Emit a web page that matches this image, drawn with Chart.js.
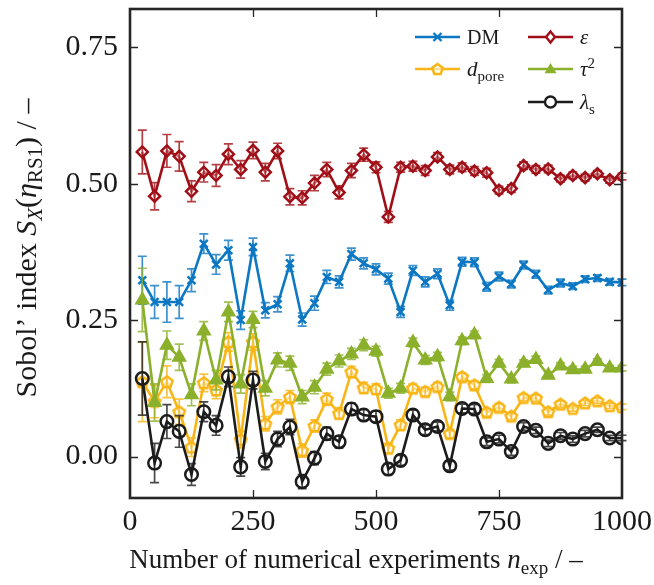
<!DOCTYPE html>
<html>
<head>
<meta charset="utf-8">
<script src="https://cdn.jsdelivr.net/npm/chart.js@4.4.1/dist/chart.umd.min.js"></script>
<style>
  html, body { margin: 0; padding: 0; background: #fff; }
  #wrap { width: 654px; height: 585px; }
</style>
</head>
<body>
<div id="wrap"><canvas id="sobol" width="654" height="585"></canvas></div>
<script>
// number of numerical experiments (x positions)
const nExp = [25, 50, 75, 100, 125, 150, 175, 200, 225, 250,
              275, 300, 325, 350, 375, 400, 425, 450, 475, 500,
              525, 550, 575, 600, 625, 650, 675, 700, 725, 750,
              775, 800, 825, 850, 875, 900, 925, 950, 975, 1000];

// Sobol' indices
const dm = [0.323, 0.283, 0.283, 0.283, 0.323, 0.390, 0.352, 0.378, 0.250, 0.384,
            0.268, 0.279, 0.354, 0.251, 0.281, 0.329, 0.320, 0.371, 0.354, 0.343,
            0.326, 0.265, 0.341, 0.320, 0.335, 0.277, 0.357, 0.356, 0.311, 0.330,
            0.316, 0.351, 0.334, 0.305, 0.318, 0.312, 0.325, 0.327, 0.320, 0.319];
const eps = [0.558, 0.477, 0.560, 0.550, 0.486, 0.521, 0.515, 0.554, 0.526, 0.561,
             0.521, 0.560, 0.476, 0.474, 0.501, 0.526, 0.484, 0.524, 0.553, 0.530,
             0.439, 0.530, 0.532, 0.524, 0.549, 0.526, 0.530, 0.523, 0.520, 0.488,
             0.491, 0.533, 0.526, 0.527, 0.509, 0.515, 0.511, 0.518, 0.507, 0.513];
const dpore = [0.137, 0.101, 0.137, 0.082, 0.017, 0.135, 0.122, 0.210, 0.031, 0.210,
               0.060, 0.091, 0.109, 0.011, 0.056, 0.105, 0.079, 0.155, 0.126, 0.124,
               0.015, 0.058, 0.125, 0.119, 0.128, 0.042, 0.146, 0.131, 0.081, 0.090,
               0.074, 0.108, 0.107, 0.082, 0.096, 0.088, 0.098, 0.102, 0.093, 0.091];
const tau2 = [0.287, 0.099, 0.204, 0.182, 0.113, 0.230, 0.140, 0.265, 0.133, 0.251,
              0.125, 0.177, 0.171, 0.109, 0.127, 0.160, 0.175, 0.188, 0.204, 0.193,
              0.116, 0.125, 0.209, 0.177, 0.183, 0.110, 0.212, 0.223, 0.143, 0.171,
              0.142, 0.171, 0.178, 0.149, 0.166, 0.159, 0.160, 0.174, 0.162, 0.162];
const lambdaS = [0.143, -0.012, 0.064, 0.046, -0.033, 0.082, 0.057, 0.146, -0.019, 0.140,
                 -0.009, 0.032, 0.054, -0.046, -0.003, 0.042, 0.027, 0.087, 0.076, 0.073,
                 -0.023, -0.007, 0.076, 0.049, 0.055, -0.017, 0.088, 0.087, 0.027, 0.032,
                 0.009, 0.055, 0.048, 0.024, 0.038, 0.032, 0.042, 0.049, 0.034, 0.034];

// half widths of the error bars
const dmErr = [0.044, 0.030, 0.037, 0.030, 0.021, 0.018, 0.018, 0.018, 0.017, 0.016,
               0.014, 0.014, 0.015, 0.012, 0.013, 0.012, 0.011, 0.011, 0.010, 0.010,
               0.010, 0.010, 0.009, 0.009, 0.009, 0.009, 0.008, 0.008, 0.008, 0.008,
               0.007, 0.007, 0.007, 0.007, 0.007, 0.006, 0.006, 0.006, 0.006, 0.006];
const epsErr = [0.040, 0.025, 0.030, 0.027, 0.019, 0.018, 0.020, 0.019, 0.016, 0.015,
                0.016, 0.014, 0.015, 0.013, 0.014, 0.013, 0.012, 0.013, 0.012, 0.010,
                0.010, 0.009, 0.009, 0.009, 0.008, 0.008, 0.008, 0.008, 0.008, 0.007,
                0.007, 0.007, 0.007, 0.007, 0.006, 0.006, 0.006, 0.006, 0.006, 0.006];
const dporeErr = [0.073, 0.030, 0.029, 0.023, 0.017, 0.016, 0.016, 0.017, 0.015, 0.015,
                  0.013, 0.013, 0.012, 0.012, 0.011, 0.011, 0.010, 0.010, 0.010, 0.009,
                  0.009, 0.009, 0.008, 0.008, 0.008, 0.008, 0.007, 0.007, 0.007, 0.007,
                  0.006, 0.006, 0.006, 0.006, 0.006, 0.005, 0.005, 0.005, 0.005, 0.005];
const tau2Err = [0.058, 0.034, 0.026, 0.024, 0.020, 0.017, 0.018, 0.018, 0.017, 0.015,
                 0.014, 0.013, 0.013, 0.012, 0.012, 0.011, 0.011, 0.010, 0.010, 0.009,
                 0.009, 0.009, 0.008, 0.008, 0.008, 0.008, 0.007, 0.007, 0.007, 0.007,
                 0.007, 0.006, 0.006, 0.006, 0.006, 0.006, 0.005, 0.005, 0.005, 0.005];
const lambdaSErr = [0.067, 0.036, 0.031, 0.029, 0.020, 0.018, 0.018, 0.018, 0.017, 0.016,
                    0.015, 0.014, 0.014, 0.013, 0.012, 0.012, 0.011, 0.011, 0.010, 0.010,
                    0.010, 0.009, 0.009, 0.009, 0.008, 0.008, 0.008, 0.008, 0.007, 0.007,
                    0.007, 0.007, 0.006, 0.006, 0.006, 0.006, 0.006, 0.005, 0.005, 0.005];

const xTicks = [0, 250, 500, 750, 1000];
const yTicks = [0, 0.25, 0.5, 0.75];

const SERIF = '"Liberation Serif", "DejaVu Serif", serif';
const C = {
    dm: '#0c77c2',
    eps: '#a00f17',
    dpore: '#f8b515',
    tau2: '#8bb02c',
    lambda: '#1c1c1c'
};

// pentagon marker sprite (no built-in pentagon in Chart.js)
function pentagonSprite(color, r) {
    const s = Math.ceil(2 * r + 6);
    const c = document.createElement('canvas');
    c.width = s; c.height = s;
    const g = c.getContext('2d');
    drawPentagon(g, s / 2, s / 2 + 0.5, r, color);
    return c;
}
function drawPentagon(g, x, y, r, color) {
    g.beginPath();
    for (let i = 0; i < 5; i++) {
        const a = -Math.PI / 2 + i * 2 * Math.PI / 5;
        g.lineTo(x + r * Math.cos(a), y + r * Math.sin(a));
    }
    g.closePath();
    g.fillStyle = 'rgba(255,255,255,0.55)';
    g.fill();
    g.lineWidth = 2.5;
    g.strokeStyle = color;
    g.stroke();
}

const toXY = arr => arr.map((v, i) => ({ x: nExp[i], y: v }));

function series(label, values, err, color, extra, order) {
    return Object.assign({
        label: label,
        data: toXY(values),
        err: err,
        errColor: color,
        borderColor: color,
        backgroundColor: color,
        pointBorderColor: color,
        borderWidth: 2.6,
        pointBorderWidth: 2.5,
        tension: 0,
        fill: false,
        order: order
    }, extra);
}

// error bars drawn through the y scale
const errorBars = {
    id: 'errorBars',
    afterDatasetDraw(chart, args) {
        const ds = chart.data.datasets[args.index];
        if (!ds.err) return;
        const ys = chart.scales.y;
        const ctx = chart.ctx;
        ctx.save();
        ctx.globalAlpha = 0.8;
        ctx.strokeStyle = ds.errColor;
        ctx.lineWidth = 1.7;
        args.meta.data.forEach((pt, i) => {
            const v = ds.data[i].y, e = ds.err[i];
            const top = ys.getPixelForValue(v + e);
            const bot = ys.getPixelForValue(v - e);
            ctx.beginPath();
            ctx.moveTo(pt.x, top); ctx.lineTo(pt.x, bot);
            ctx.moveTo(pt.x - 4.5, top); ctx.lineTo(pt.x + 4.5, top);
            ctx.moveTo(pt.x - 4.5, bot); ctx.lineTo(pt.x + 4.5, bot);
            ctx.stroke();
        });
        ctx.restore();
    }
};

// text with italic parts and sub/superscripts
function richText(ctx, parts, cx, baseY) {
    let total = 0;
    parts.forEach(p => {
        ctx.font = (p[2] ? 'italic ' : '') + p[1] + 'px ' + SERIF;
        p.w = ctx.measureText(p[0]).width;
        total += p.w;
    });
    let x = cx - total / 2;
    ctx.textAlign = 'left';
    ctx.textBaseline = 'alphabetic';
    parts.forEach(p => {
        ctx.font = (p[2] ? 'italic ' : '') + p[1] + 'px ' + SERIF;
        ctx.fillText(p[0], x, baseY + p[3]);
        x += p.w;
    });
}
function richTextLeft(ctx, parts, x, baseY) {
    ctx.textAlign = 'left';
    ctx.textBaseline = 'alphabetic';
    parts.forEach(p => {
        ctx.font = (p[2] ? 'italic ' : '') + p[1] + 'px ' + SERIF;
        ctx.fillText(p[0], x, baseY + p[3]);
        x += ctx.measureText(p[0]).width;
    });
}

function legendMarker(ctx, kind, x, y, color) {
    ctx.save();
    ctx.strokeStyle = color;
    ctx.fillStyle = color;
    ctx.lineWidth = 2.4;
    if (kind === 'cross') {
        const r = 4;
        ctx.beginPath();
        ctx.moveTo(x - r, y - r); ctx.lineTo(x + r, y + r);
        ctx.moveTo(x - r, y + r); ctx.lineTo(x + r, y - r);
        ctx.stroke();
    } else if (kind === 'diamond') {
        const r = 5.5;
        ctx.beginPath();
        ctx.moveTo(x, y - r); ctx.lineTo(x + r * 0.8, y); ctx.lineTo(x, y + r); ctx.lineTo(x - r * 0.8, y);
        ctx.closePath();
        ctx.fillStyle = '#fff';
        ctx.fill();
        ctx.stroke();
    } else if (kind === 'pentagon') {
        drawPentagon(ctx, x, y + 0.5, 5.5, color);
    } else if (kind === 'triangle') {
        const r = 6;
        ctx.beginPath();
        ctx.moveTo(x, y - r); ctx.lineTo(x + r, y + r * 0.7); ctx.lineTo(x - r, y + r * 0.7);
        ctx.closePath();
        ctx.fill();
    } else if (kind === 'circle') {
        ctx.beginPath();
        ctx.arc(x, y, 5.5, 0, Math.PI * 2);
        ctx.fillStyle = '#fff';
        ctx.fill();
        ctx.stroke();
    }
    ctx.restore();
}

// frame, inward ticks, titles and legend
const decorations = {
    id: 'decorations',
    afterDraw(chart) {
        const ctx = chart.ctx;
        const a = chart.chartArea;
        const xs = chart.scales.x, ys = chart.scales.y;
        ctx.save();
        ctx.strokeStyle = '#262626';
        ctx.lineWidth = 1.3;
        ctx.beginPath();
        xTicks.forEach(t => {
            const px = Math.round(xs.getPixelForValue(t)) + 0.5;
            if (t === 0 || t === 1000) return;
            ctx.moveTo(px, a.bottom); ctx.lineTo(px, a.bottom - 8);
            ctx.moveTo(px, a.top); ctx.lineTo(px, a.top + 8);
        });
        yTicks.forEach(t => {
            const py = Math.round(ys.getPixelForValue(t)) + 0.5;
            ctx.moveTo(a.left, py); ctx.lineTo(a.left + 8, py);
            ctx.moveTo(a.right, py); ctx.lineTo(a.right - 8, py);
        });
        ctx.stroke();
        ctx.lineWidth = 2.6;
        ctx.strokeRect(a.left, a.top, a.right - a.left, a.bottom - a.top);

        // axis titles
        ctx.fillStyle = '#1a1a1a';
        richText(ctx, [
            ['Number of numerical experiments ', 27, false, 0],
            ['n', 27, true, 0],
            ['exp', 19, false, 6],
            [' / \u2013', 27, false, 0]
        ], 356, 568);

        ctx.save();
        ctx.translate(36, 248);
        ctx.rotate(-Math.PI / 2);
        richText(ctx, [
            ['Sobol\u2019 index ', 30, false, 0],
            ['S', 30, true, 0],
            ['X', 21, true, 6],
            ['(', 30, false, 0],
            ['\u03b7', 30, true, 0],
            ['RS1', 21, false, 6],
            [') / \u2013', 30, false, 0]
        ], 0, 0);
        ctx.restore();

        // legend
        const rows = [
            { kind: 'cross', color: C.dm, x: 415, y: 37, text: [['DM', 20, false, 0]] },
            { kind: 'diamond', color: C.eps, x: 528, y: 37, text: [['\u03b5', 21, true, 0]] },
            { kind: 'pentagon', color: C.dpore, x: 415, y: 69, text: [['d', 21, true, 0], ['pore', 15, false, 5]] },
            { kind: 'triangle', color: C.tau2, x: 528, y: 69, text: [['\u03c4', 21, true, 0], ['2', 15, false, -8]] },
            { kind: 'circle', color: C.lambda, x: 528, y: 102, text: [['\u03bb', 21, true, 0], ['s', 15, false, 5]] }
        ];
        rows.forEach(r => {
            ctx.strokeStyle = r.color;
            ctx.lineWidth = 2.6;
            ctx.beginPath();
            ctx.moveTo(r.x, r.y); ctx.lineTo(r.x + 45, r.y);
            ctx.stroke();
            legendMarker(ctx, r.kind, r.x + 22.5, r.y, r.color);
            ctx.fillStyle = '#1a1a1a';
            richTextLeft(ctx, r.text, r.x + 52, r.y + 7);
        });
        ctx.restore();
    }
};

new Chart(document.getElementById('sobol'), {
    type: 'line',
    data: {
        datasets: [
            series('DM', dm, dmErr, C.dm,
                { pointStyle: 'crossRot', pointRadius: 5.5, pointBackgroundColor: C.dm }, 5),
            series('\u03b5', eps, epsErr, C.eps,
                { pointStyle: 'rectRot', pointRadius: 5.5, pointBackgroundColor: 'rgba(255,255,255,0.45)' }, 4),
            series('d_pore', dpore, dporeErr, C.dpore,
                { pointStyle: pentagonSprite(C.dpore, 6), pointRadius: 6 }, 3),
            series('\u03c4\u00b2', tau2, tau2Err, C.tau2,
                { pointStyle: 'triangle', pointRadius: 6.5, pointBackgroundColor: C.tau2 }, 2),
            series('\u03bb_s', lambdaS, lambdaSErr, C.lambda,
                { pointStyle: 'circle', pointRadius: 6.3, pointBackgroundColor: 'rgba(255,255,255,0)' }, 1)
        ]
    },
    options: {
        responsive: false,
        animation: false,
        layout: { padding: { top: 8, right: 32, left: 0, bottom: 0 } },
        plugins: {
            legend: { display: false },
            tooltip: { enabled: false }
        },
        scales: {
            x: {
                type: 'linear',
                min: 0,
                max: 1000,
                grid: { display: false, drawTicks: false },
                border: { display: false },
                afterBuildTicks: s => { s.ticks = xTicks.map(v => ({ value: v })); },
                afterFit: s => { s.height = 87; s.paddingLeft = 0; s.paddingRight = 0; },
                ticks: {
                    padding: 6,
                    color: '#1a1a1a',
                    font: { family: SERIF, size: 30 },
                    maxRotation: 0,
                    callback: v => String(v)
                }
            },
            y: {
                type: 'linear',
                min: -0.076,
                max: 0.82,
                grid: { display: false, drawTicks: false },
                border: { display: false },
                afterBuildTicks: s => { s.ticks = yTicks.map(v => ({ value: v })); },
                afterFit: s => { s.width = 130; s.paddingTop = 0; s.paddingBottom = 0; },
                ticks: {
                    padding: 12,
                    color: '#1a1a1a',
                    font: { family: SERIF, size: 30 },
                    callback: v => v.toFixed(2)
                }
            }
        }
    },
    plugins: [errorBars, decorations]
});
</script>
</body>
</html>
